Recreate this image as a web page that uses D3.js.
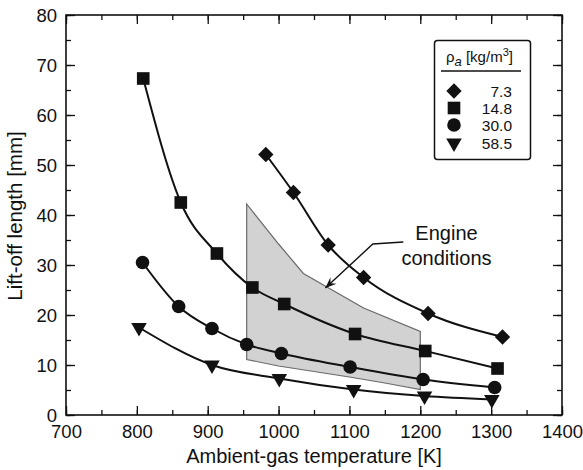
<!DOCTYPE html>
<html>
<head>
<meta charset="utf-8">
<script src="https://cdn.jsdelivr.net/npm/d3@7"></script>
<style>
  html, body { margin: 0; padding: 0; background: #fff; }
  svg { display: block; font-family: "Liberation Sans", Arial, Helvetica, sans-serif; }
</style>
</head>
<body>
<svg id="chart" width="583" height="470"></svg>
<script>
// ---------- data ----------
const xTickValues = [700, 800, 900, 1000, 1100, 1200, 1300, 1400];
const yTickValues = [0, 10, 20, 30, 40, 50, 60, 70, 80];
const legendLabels = ["7.3", "14.8", "30.0", "58.5"];

const tempRho73 = [982, 1021, 1070, 1120, 1211, 1316];
const liftRho73 = [52.1, 44.5, 34.0, 27.5, 20.3, 15.6];

const tempRho148 = [809, 862, 913, 963, 1008, 1108, 1207, 1309];
const liftRho148 = [67.3, 42.5, 32.3, 25.5, 22.2, 16.2, 12.8, 9.3];

const tempRho300 = [808, 859, 906, 955, 1004, 1101, 1204, 1305];
const liftRho300 = [30.5, 21.7, 17.3, 14.1, 12.3, 9.6, 7.1, 5.5];

const tempRho585 = [803, 906, 1001, 1106, 1206, 1301];
const liftRho585 = [17.5, 10.0, 7.3, 5.1, 3.8, 3.1];

// engine-conditions region (upper edge then lower edge back)
const engineTemp = [955, 1000, 1035, 1120, 1200, 1200, 1150, 1100, 1050, 1000, 955];
const engineLift = [42.2, 34.2, 28.3, 21.4, 16.7, 5.1, 6.4, 7.6, 8.7, 9.8, 11.1];

// annotation leader (text anchor, elbow, arrow tip) in data units
const leaderTemp = [1176, 1133, 1066];
const leaderLift = [34.6, 34.2, 25.4];
const noteTemp = 1237;
const noteLift = [35.0, 30.0];
const noteLines = ["Engine", "conditions"];

// ---------- layout ----------
const svg = d3.select("#chart");
const L = 66, R = 562, T = 15, B = 415;
const x = d3.scaleLinear().domain([700, 1400]).range([L, R]);
const y = d3.scaleLinear().domain([0, 80]).range([B, T]);
const ink = "#111";

// region
const region = d3.zip(engineTemp, engineLift);
svg.append("path")
  .attr("d", d3.line().x(d => x(d[0])).y(d => y(d[1]))(region) + "Z")
  .attr("fill", "#d2d2d2").attr("stroke", "#6a6a6a").attr("stroke-width", 1.2);

// axes
const minorX = d3.range(700, 1401, 50);
const minorY = d3.range(0, 81, 5);
function axisGroup(axis, tr) {
  const g = svg.append("g").attr("transform", tr).call(axis);
  g.select(".domain").remove();
  g.selectAll("line").attr("stroke", ink).attr("stroke-width", 1.3);
  return g;
}
// minor
axisGroup(d3.axisBottom(x).tickValues(minorX).tickSize(-5).tickFormat(""), `translate(0,${B})`);
axisGroup(d3.axisTop(x).tickValues(minorX).tickSize(-5).tickFormat(""), `translate(0,${T})`);
axisGroup(d3.axisLeft(y).tickValues(minorY).tickSize(-5).tickFormat(""), `translate(${L},0)`);
axisGroup(d3.axisRight(y).tickValues(minorY).tickSize(-5).tickFormat(""), `translate(${R},0)`);
// major
const xb = axisGroup(d3.axisBottom(x).tickValues(xTickValues).tickSize(-9).tickPadding(10).tickFormat(d3.format("d")), `translate(0,${B})`);
axisGroup(d3.axisTop(x).tickValues(xTickValues).tickSize(-9).tickFormat(""), `translate(0,${T})`);
const yl = axisGroup(d3.axisLeft(y).tickValues(yTickValues).tickSize(-9).tickPadding(9).tickFormat(d3.format("d")), `translate(${L},0)`);
axisGroup(d3.axisRight(y).tickValues(yTickValues).tickSize(-9).tickFormat(""), `translate(${R},0)`);
[xb, yl].forEach(g => g.selectAll("text")
  .attr("font-size", 18.5).attr("fill", ink).attr("font-family", "Liberation Sans, Arial, sans-serif"));
xb.selectAll("text").attr("dy", "0.71em");
yl.selectAll("text").attr("dy", "0.33em");

// frame
svg.append("rect").attr("x", L).attr("y", T).attr("width", R - L).attr("height", B - T)
  .attr("fill", "none").attr("stroke", ink).attr("stroke-width", 1.6);

// axis titles
svg.append("text").attr("x", 314).attr("y", 463).attr("text-anchor", "middle")
  .attr("font-size", 20).attr("fill", ink).text("Ambient-gas temperature [K]");
svg.append("text").attr("transform", `translate(22,216) rotate(-90)`)
  .attr("text-anchor", "middle").attr("font-size", 20.5).attr("fill", ink).text("Lift-off length [mm]");

// series
const series = [
  { t: tempRho73, v: liftRho73, sym: d3.symbolSquare, size: 118, rot: 45 },
  { t: tempRho148, v: liftRho148, sym: d3.symbolSquare, size: 160, rot: 0 },
  { t: tempRho300, v: liftRho300, sym: d3.symbolCircle, size: 145, rot: 0 },
  { t: tempRho585, v: liftRho585, sym: d3.symbolTriangle, size: 105, rot: 180 },
];
const lineGen = d3.line().x(d => x(d[0])).y(d => y(d[1])).curve(d3.curveMonotoneX);
series.forEach(s => {
  const pts = d3.zip(s.t, s.v);
  svg.append("path").attr("d", lineGen(pts)).attr("fill", "none")
    .attr("stroke", ink).attr("stroke-width", 2);
});
series.forEach(s => {
  const pts = d3.zip(s.t, s.v);
  svg.append("g").selectAll("path").data(pts).join("path")
    .attr("d", d3.symbol().type(s.sym).size(s.size))
    .attr("transform", d => `translate(${x(d[0])},${y(d[1])}) rotate(${s.rot})`)
    .attr("fill", ink);
});

// annotation
const lp = d3.zip(leaderTemp, leaderLift).map(d => [x(d[0]), y(d[1])]);
svg.append("path").attr("d", d3.line()(lp)).attr("fill", "none").attr("stroke", ink).attr("stroke-width", 1.4);
(function arrow() {
  const [p, q] = [lp[1], lp[2]];
  const ang = Math.atan2(q[1] - p[1], q[0] - p[0]);
  const len = 12, half = 0.38;
  const a1 = [q[0] - len * Math.cos(ang - half), q[1] - len * Math.sin(ang - half)];
  const a2 = [q[0] - len * Math.cos(ang + half), q[1] - len * Math.sin(ang + half)];
  const back = [q[0] - 7 * Math.cos(ang), q[1] - 7 * Math.sin(ang)];
  svg.append("path").attr("d", `M${q}L${a1}L${back}L${a2}Z`).attr("fill", ink);
})();
noteLines.forEach((t, i) => {
  svg.append("text").attr("x", x(noteTemp)).attr("y", y(noteLift[i])).attr("text-anchor", "middle")
    .attr("font-size", 20).attr("fill", ink).text(t);
});

// legend
const lg = svg.append("g");
lg.append("rect").attr("x", 434.5).attr("y", 40.5).attr("width", 96).attr("height", 119)
  .attr("rx", 3).attr("fill", "#fff").attr("stroke", ink).attr("stroke-width", 1.5);
const title = lg.append("text").attr("x", 446).attr("y", 62).attr("font-size", 15).attr("fill", ink);
title.append("tspan").text("ρ");
title.append("tspan").attr("dy", 4).attr("font-style", "italic").attr("font-size", 13).text("a");
title.append("tspan").attr("dy", -4).text(" [kg/m");
title.append("tspan").attr("dy", -6).attr("font-size", 11).text("3");
title.append("tspan").attr("dy", 6).text("]");
lg.append("line").attr("x1", 441).attr("x2", 521).attr("y1", 71).attr("y2", 71)
  .attr("stroke", ink).attr("stroke-width", 1.5);
const rowY = [91, 108, 125, 143];
series.forEach((s, i) => {
  lg.append("path").attr("d", d3.symbol().type(s.sym).size(s.size))
    .attr("transform", `translate(454,${rowY[i]}) rotate(${s.rot})`).attr("fill", ink);
  lg.append("text").attr("x", 512).attr("y", rowY[i] + 5.5).attr("text-anchor", "end")
    .attr("font-size", 15.5).attr("fill", ink).text(legendLabels[i]);
});
</script>
</body>
</html>
